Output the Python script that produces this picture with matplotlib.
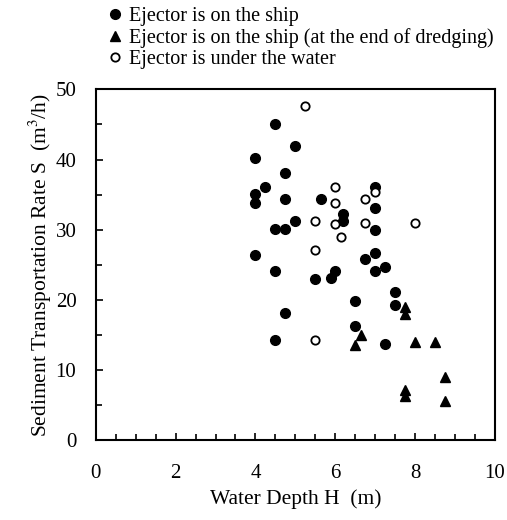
import matplotlib
matplotlib.use("Agg")
import matplotlib.pyplot as plt
from matplotlib.ticker import MultipleLocator

plt.rcParams['font.family'] = ['Liberation Serif', 'DejaVu Serif']
plt.rcParams['mathtext.fontset'] = 'stix'

# ejector on the ship
ship_h = [4.0, 4.0, 4.0, 4.0, 4.25, 4.5, 4.5, 4.5, 4.5, 4.75, 4.75, 4.75, 4.75,
          5.0, 5.0, 5.5, 5.65, 5.9, 6.0, 6.2, 6.2, 6.5, 6.5, 6.75, 7.0, 7.0,
          7.0, 7.0, 7.0, 7.25, 7.25, 7.5, 7.5]
ship_s = [40.2, 35.1, 33.8, 26.4, 36.1, 45.1, 30.1, 24.1, 14.2, 38.1, 34.3, 30.1, 18.1,
          41.9, 31.2, 22.9, 34.3, 23.1, 24.1, 32.2, 31.2, 19.8, 16.2, 25.8, 36.1, 33.1,
          30.0, 26.7, 24.1, 24.6, 13.7, 21.1, 19.3]

# ejector on the ship, end of dredging
end_h = [7.75, 7.75, 6.65, 6.5, 8.0, 8.5, 8.75, 7.75, 7.75, 8.75]
end_s = [19.0, 17.9, 15.0, 13.6, 14.0, 14.0, 9.0, 7.1, 6.3, 5.5]

# ejector under the water
under_h = [5.25, 6.0, 6.0, 7.0, 6.75, 5.5, 6.0, 6.75, 8.0, 6.15, 5.5, 5.5]
under_s = [47.6, 36.1, 33.8, 35.4, 34.3, 31.2, 30.8, 30.9, 31.0, 29.0, 27.1, 14.2]

fig = plt.figure(figsize=(5.07, 5.2), dpi=100)
ax = fig.add_axes([0.189, 0.154, 0.787, 0.674])

ax.plot(ship_h, ship_s, 'o', color='black', markersize=7, label='Ejector is on the ship')
ax.plot(end_h, end_s, '^', color='black', markersize=7.5,
        label='Ejector is on the ship (at the end of dredging)')
ax.plot(under_h, under_s, 'o', markerfacecolor='white', markeredgecolor='black',
        markeredgewidth=1.3, markersize=6, label='Ejector is under the water')

ax.set_xlim(0, 10)
ax.set_ylim(0, 50)
ax.xaxis.set_major_locator(MultipleLocator(2))
ax.xaxis.set_minor_locator(MultipleLocator(0.5))
ax.yaxis.set_major_locator(MultipleLocator(10))
ax.yaxis.set_minor_locator(MultipleLocator(5))
ax.tick_params(which='both', direction='in', labelsize=15, width=1.2)
ax.tick_params(which='major', length=5)
ax.tick_params(which='minor', length=4)
ax.tick_params(axis='x', which='major', pad=17)
ax.tick_params(axis='y', which='major', pad=14)
for sp in ax.spines.values():
    sp.set_linewidth(1.5)

ax.set_xlabel('Water Depth H  (m)', fontsize=15.5, labelpad=5)
ax.set_ylabel('Sediment Transportation Rate S  (m$^3$/h)', fontsize=15.5, labelpad=1)

fig.legend(loc='upper left', bbox_to_anchor=(0.19, 1.002), frameon=False,
           fontsize=14.5, handletextpad=0.1, handlelength=1.1, labelspacing=0.1,
           borderaxespad=0)

fig.savefig('out.png', dpi=100)
